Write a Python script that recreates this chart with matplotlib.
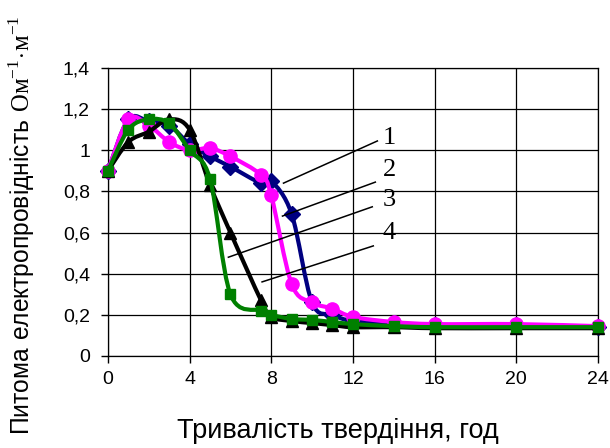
import matplotlib
matplotlib.use("Agg")
import matplotlib.pyplot as plt
from matplotlib.path import Path
from matplotlib.patches import PathPatch

# hours of hardening
hours = [0, 1, 2, 3, 4, 5, 6, 7.5, 8, 9, 10, 11, 12, 14, 16, 20, 24]

# specific conductivity, Ohm^-1*m^-1
cond_1 = [0.90, 1.15, 1.14, 1.12, 1.03, 0.97, 0.92, 0.84, 0.85, 0.69, 0.26, 0.20, 0.17, 0.16, 0.15, 0.15, 0.14]
cond_2 = [0.90, 1.15, 1.12, 1.04, 1.00, 1.01, 0.97, 0.88, 0.78, 0.35, 0.26, 0.23, 0.19, 0.165, 0.155, 0.155, 0.145]
cond_3 = [0.90, 1.04, 1.09, 1.15, 1.10, 0.83, 0.60, 0.27, 0.19, 0.17, 0.16, 0.15, 0.14, 0.14, 0.135, 0.135, 0.135]
cond_4 = [0.90, 1.10, 1.15, 1.13, 1.00, 0.86, 0.30, 0.22, 0.20, 0.18, 0.175, 0.165, 0.155, 0.145, 0.14, 0.14, 0.14]

curve_labels = ["1", "2", "3", "4"]
# leader lines: (x0, y0, x1, y1) and label position
leaders = [(8.6, 0.84, 13.2, 1.045), (8.55, 0.68, 13.1, 0.845),
           (5.9, 0.48, 12.95, 0.725), (7.55, 0.36, 13.0, 0.535)]
label_pos = [(13.45, 1.06), (13.45, 0.905), (13.45, 0.76), (13.45, 0.60)]

xticks = [0, 4, 8, 12, 16, 20, 24]
yticks = [0, 0.2, 0.4, 0.6, 0.8, 1.0, 1.2, 1.4]
ytick_labels = ["0", "0,2", "0,4", "0,6", "0,8", "1", "1,2", "1,4"]

plt.rcParams['font.family'] = ['Liberation Sans', 'DejaVu Sans']
plt.rcParams['mathtext.fontset'] = 'custom'
plt.rcParams['mathtext.rm'] = 'Liberation Serif'
plt.rcParams['mathtext.sf'] = 'Liberation Sans'


def smooth_path(xs, ys):
    # Catmull-Rom style bezier through the points (like spreadsheet smoothed lines)
    pts = list(zip(xs, ys))
    verts = [pts[0]]
    codes = [Path.MOVETO]
    n = len(pts)
    for i in range(n - 1):
        p0 = pts[i - 1] if i > 0 else pts[i]
        p1 = pts[i]
        p2 = pts[i + 1]
        p3 = pts[i + 2] if i + 2 < n else pts[i + 1]
        c1 = (p1[0] + (p2[0] - p0[0]) / 6, p1[1] + (p2[1] - p0[1]) / 6)
        c2 = (p2[0] - (p3[0] - p1[0]) / 6, p2[1] - (p3[1] - p1[1]) / 6)
        verts += [c1, c2, p2]
        codes += [Path.CURVE4] * 3
    return Path(verts, codes)


fig = plt.figure(figsize=(6.1, 4.48), dpi=100)
ax = fig.add_axes([0.177, 0.2054, 0.803, 0.643])

series = [
    (cond_1, "#000080", "D", 8),
    (cond_2, "#ff00ff", "o", 9.5),
    (cond_3, "#000000", "^", 9),
    (cond_4, "#008000", "s", 7),
]
for z, (vals, color, marker, ms) in enumerate(series):
    ax.add_patch(PathPatch(smooth_path(hours, vals), fill=False, edgecolor=color,
                           lw=3, zorder=3 + z, capstyle='round', joinstyle='round'))
    ax.plot(hours, vals, linestyle='none', marker=marker, ms=ms, color=color,
            markeredgecolor=color, zorder=3 + z, clip_on=False)

for (x0, y0, x1, y1), (lx, ly), lab in zip(leaders, label_pos, curve_labels):
    ax.plot([x0, x1], [y0, y1], color='black', lw=1.1, zorder=8)
    ax.text(lx, ly, lab, family='Liberation Serif', fontsize=19,
            ha='left', va='center', zorder=8)

ax.set_xlim(0, 24)
ax.set_ylim(0, 1.4)
ax.set_xticks(xticks)
ax.set_yticks(yticks)
ax.set_yticklabels(ytick_labels)
ax.tick_params(direction='out', length=5, width=1, labelsize=14, colors='black')
ax.tick_params(axis='y', pad=8)
ax.tick_params(axis='x', pad=6)
ax.grid(True, color='black', lw=0.9)
ax.set_axisbelow(True)
for sp in ax.spines.values():
    sp.set_color('black')
    sp.set_linewidth(0.9)

ax.set_xlabel("Тривалість твердіння, год", fontsize=19.5)
ax.xaxis.set_label_coords(0.47, -0.285, transform=ax.transAxes)
ax.xaxis.label.set_va('baseline')
fig.text(0.035, 0.498,
         r"$\mathsf{Питома\ електропровідність}\ \mathrm{Ом}^{-1}\!\cdot\!\mathrm{м}^{-1}$",
         rotation=90, ha='center', va='center', fontsize=17.7)

fig.savefig("out.png", dpi=100)
